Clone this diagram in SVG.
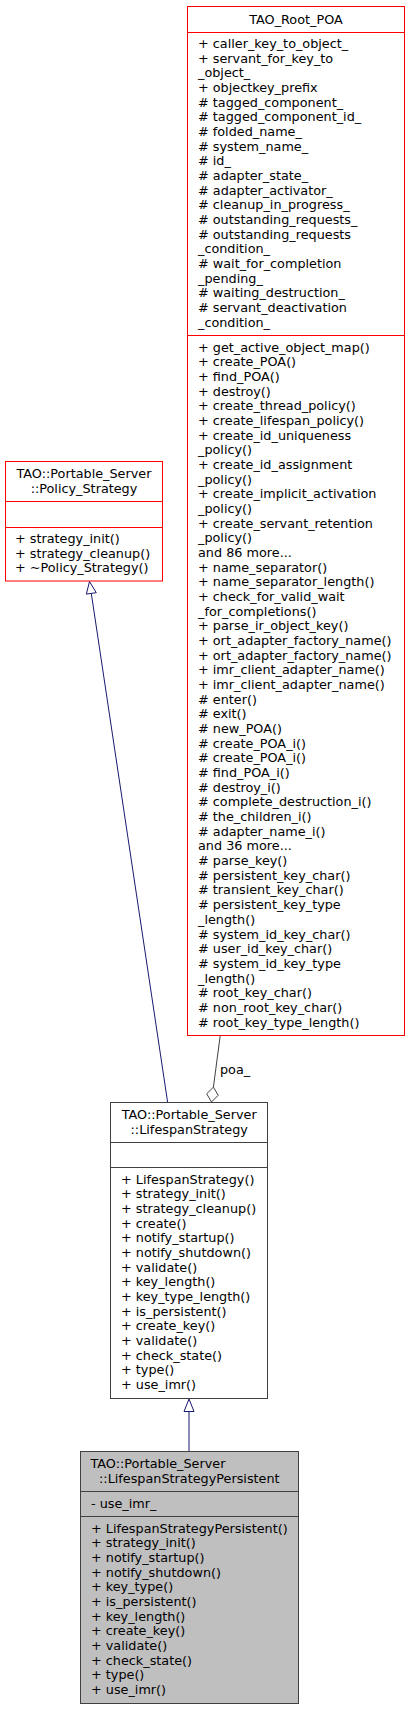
<svg xmlns="http://www.w3.org/2000/svg" width="409" height="1709" viewBox="0 0 409 1709">
<style>
text{font-family:"DejaVu Sans","Liberation Sans",sans-serif;font-size:12.8px;fill:#000}
.mid{text-anchor:middle}
.red{fill:#fff;stroke:#ff0000;stroke-width:1}
.redl{stroke:#ff0000;stroke-width:1}
.blk{fill:#fff;stroke:#404040;stroke-width:1}
.gry{fill:#bfbfbf;stroke:#404040;stroke-width:1}
.blkl{stroke:#404040;stroke-width:1}
.gen{stroke:#191970;stroke-width:1;fill:none}
.genh{stroke:#191970;stroke-width:1;fill:#fff}
.agg{stroke:#404040;stroke-width:1;fill:none}
.aggh{stroke:#404040;stroke-width:1;fill:#fff}
</style>
<rect x="0" y="0" width="409" height="1709" fill="#fff"/>
<g id="connectors">
<line class="gen" x1="167.7" y1="1102.7" x2="91.3" y2="593.4"/>
<polygon class="genh" points="89.5,581.5 96.25,592.7 86.35,594.1"/>
<line class="agg" x1="220.2" y1="1035.7" x2="213.42" y2="1087.1"/>
<polygon class="aggh" points="211.5,1102 206.7,1093.8 213.42,1087.1 218.2,1095.3"/>
<text x="220" y="1073.5">poa_</text>
<line class="gen" x1="189" y1="1411.5" x2="189" y2="1451.5"/>
<polygon class="genh" points="189,1399 194,1411.5 184,1411.5"/>
</g>
<g id="node_root_poa">
<rect class="red" x="187.5" y="6.5" width="217" height="1029"/>
<line class="redl" x1="187.5" y1="32.5" x2="404.5" y2="32.5"/>
<line class="redl" x1="187.5" y1="335.5" x2="404.5" y2="335.5"/>
<text class="mid" x="296" y="23.5">TAO_Root_POA</text>
<text x="198">
<tspan x="198" y="48">+ caller_key_to_object_</tspan>
<tspan x="198" y="62.67">+ servant_for_key_to</tspan>
<tspan x="198" y="77.34">_object_</tspan>
<tspan x="198" y="92.01">+ objectkey_prefix</tspan>
<tspan x="198" y="106.68"># tagged_component_</tspan>
<tspan x="198" y="121.35"># tagged_component_id_</tspan>
<tspan x="198" y="136.02"># folded_name_</tspan>
<tspan x="198" y="150.69"># system_name_</tspan>
<tspan x="198" y="165.36"># id_</tspan>
<tspan x="198" y="180.03"># adapter_state_</tspan>
<tspan x="198" y="194.7"># adapter_activator_</tspan>
<tspan x="198" y="209.37"># cleanup_in_progress_</tspan>
<tspan x="198" y="224.04"># outstanding_requests_</tspan>
<tspan x="198" y="238.71"># outstanding_requests</tspan>
<tspan x="198" y="253.38">_condition_</tspan>
<tspan x="198" y="268.05"># wait_for_completion</tspan>
<tspan x="198" y="282.72">_pending_</tspan>
<tspan x="198" y="297.39"># waiting_destruction_</tspan>
<tspan x="198" y="312.06"># servant_deactivation</tspan>
<tspan x="198" y="326.73">_condition_</tspan>
</text>
<text x="198">
<tspan x="198" y="351.7">+ get_active_object_map()</tspan>
<tspan x="198" y="366.37">+ create_POA()</tspan>
<tspan x="198" y="381.04">+ find_POA()</tspan>
<tspan x="198" y="395.71">+ destroy()</tspan>
<tspan x="198" y="410.38">+ create_thread_policy()</tspan>
<tspan x="198" y="425.05">+ create_lifespan_policy()</tspan>
<tspan x="198" y="439.72">+ create_id_uniqueness</tspan>
<tspan x="198" y="454.39">_policy()</tspan>
<tspan x="198" y="469.06">+ create_id_assignment</tspan>
<tspan x="198" y="483.73">_policy()</tspan>
<tspan x="198" y="498.4">+ create_implicit_activation</tspan>
<tspan x="198" y="513.07">_policy()</tspan>
<tspan x="198" y="527.74">+ create_servant_retention</tspan>
<tspan x="198" y="542.41">_policy()</tspan>
<tspan x="198" y="557.08">and 86 more...</tspan>
<tspan x="198" y="571.75">+ name_separator()</tspan>
<tspan x="198" y="586.42">+ name_separator_length()</tspan>
<tspan x="198" y="601.09">+ check_for_valid_wait</tspan>
<tspan x="198" y="615.76">_for_completions()</tspan>
<tspan x="198" y="630.43">+ parse_ir_object_key()</tspan>
<tspan x="198" y="645.1">+ ort_adapter_factory_name()</tspan>
<tspan x="198" y="659.77">+ ort_adapter_factory_name()</tspan>
<tspan x="198" y="674.44">+ imr_client_adapter_name()</tspan>
<tspan x="198" y="689.11">+ imr_client_adapter_name()</tspan>
<tspan x="198" y="703.78"># enter()</tspan>
<tspan x="198" y="718.45"># exit()</tspan>
<tspan x="198" y="733.12"># new_POA()</tspan>
<tspan x="198" y="747.79"># create_POA_i()</tspan>
<tspan x="198" y="762.46"># create_POA_i()</tspan>
<tspan x="198" y="777.13"># find_POA_i()</tspan>
<tspan x="198" y="791.8"># destroy_i()</tspan>
<tspan x="198" y="806.47"># complete_destruction_i()</tspan>
<tspan x="198" y="821.14"># the_children_i()</tspan>
<tspan x="198" y="835.81"># adapter_name_i()</tspan>
<tspan x="198" y="850.48">and 36 more...</tspan>
<tspan x="198" y="865.15"># parse_key()</tspan>
<tspan x="198" y="879.82"># persistent_key_char()</tspan>
<tspan x="198" y="894.49"># transient_key_char()</tspan>
<tspan x="198" y="909.16"># persistent_key_type</tspan>
<tspan x="198" y="923.83">_length()</tspan>
<tspan x="198" y="938.5"># system_id_key_char()</tspan>
<tspan x="198" y="953.17"># user_id_key_char()</tspan>
<tspan x="198" y="967.84"># system_id_key_type</tspan>
<tspan x="198" y="982.51">_length()</tspan>
<tspan x="198" y="997.18"># root_key_char()</tspan>
<tspan x="198" y="1011.85"># non_root_key_char()</tspan>
<tspan x="198" y="1026.52"># root_key_type_length()</tspan>
</text>
</g>
<g id="node_policy_strategy">
<rect class="red" x="5.5" y="461.5" width="157" height="119.5"/>
<line class="redl" x1="5.5" y1="501.5" x2="162.5" y2="501.5"/>
<line class="redl" x1="5.5" y1="527.5" x2="162.5" y2="527.5"/>
<text class="mid" x="84" y="478">TAO::Portable_Server</text>
<text class="mid" x="84" y="492.67">::Policy_Strategy</text>
<text x="15">
<tspan x="15" y="543">+ strategy_init()</tspan>
<tspan x="15" y="557.67">+ strategy_cleanup()</tspan>
<tspan x="15" y="572.34">+ ~Policy_Strategy()</tspan>
</text>
</g>
<g id="node_lifespan_strategy">
<rect class="blk" x="110.5" y="1102.5" width="157" height="296"/>
<line class="blkl" x1="110.5" y1="1142.5" x2="267.5" y2="1142.5"/>
<line class="blkl" x1="110.5" y1="1167.5" x2="267.5" y2="1167.5"/>
<text class="mid" x="189.2" y="1119">TAO::Portable_Server</text>
<text class="mid" x="189.2" y="1133.67">::LifespanStrategy</text>
<text x="121">
<tspan x="121" y="1183.7">+ LifespanStrategy()</tspan>
<tspan x="121" y="1198.37">+ strategy_init()</tspan>
<tspan x="121" y="1213.04">+ strategy_cleanup()</tspan>
<tspan x="121" y="1227.71">+ create()</tspan>
<tspan x="121" y="1242.38">+ notify_startup()</tspan>
<tspan x="121" y="1257.05">+ notify_shutdown()</tspan>
<tspan x="121" y="1271.72">+ validate()</tspan>
<tspan x="121" y="1286.39">+ key_length()</tspan>
<tspan x="121" y="1301.06">+ key_type_length()</tspan>
<tspan x="121" y="1315.73">+ is_persistent()</tspan>
<tspan x="121" y="1330.4">+ create_key()</tspan>
<tspan x="121" y="1345.07">+ validate()</tspan>
<tspan x="121" y="1359.74">+ check_state()</tspan>
<tspan x="121" y="1374.41">+ type()</tspan>
<tspan x="121" y="1389.08">+ use_imr()</tspan>
</text>
</g>
<g id="node_lifespan_strategy_persistent">
<rect class="gry" x="80.5" y="1451.5" width="218" height="252"/>
<line class="blkl" x1="80.5" y1="1491.5" x2="298.5" y2="1491.5"/>
<line class="blkl" x1="80.5" y1="1516.5" x2="298.5" y2="1516.5"/>
<text x="90.5" y="1468">TAO::Portable_Server</text>
<text class="mid" x="189.3" y="1482.67">::LifespanStrategyPersistent</text>
<text x="91" y="1507.7">- use_imr_</text>
<text x="91">
<tspan x="91" y="1532.7">+ LifespanStrategyPersistent()</tspan>
<tspan x="91" y="1547.37">+ strategy_init()</tspan>
<tspan x="91" y="1562.04">+ notify_startup()</tspan>
<tspan x="91" y="1576.71">+ notify_shutdown()</tspan>
<tspan x="91" y="1591.38">+ key_type()</tspan>
<tspan x="91" y="1606.05">+ is_persistent()</tspan>
<tspan x="91" y="1620.72">+ key_length()</tspan>
<tspan x="91" y="1635.39">+ create_key()</tspan>
<tspan x="91" y="1650.06">+ validate()</tspan>
<tspan x="91" y="1664.73">+ check_state()</tspan>
<tspan x="91" y="1679.4">+ type()</tspan>
<tspan x="91" y="1694.07">+ use_imr()</tspan>
</text>
</g>
</svg>
